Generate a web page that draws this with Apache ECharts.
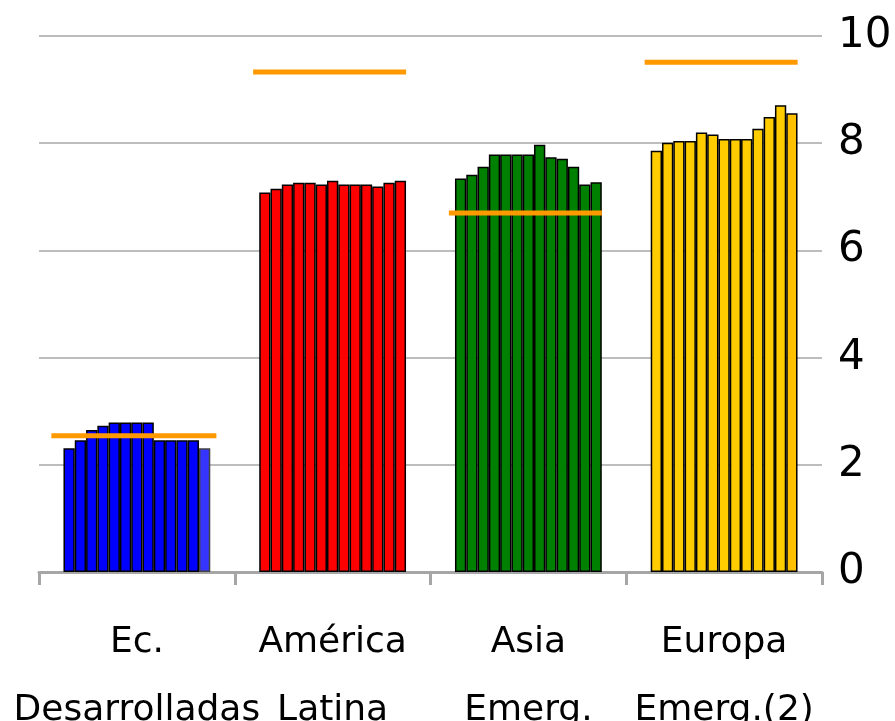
<!DOCTYPE html>
<html>
<head>
<meta charset="utf-8">
<script src="https://cdn.jsdelivr.net/npm/echarts@6/dist/echarts.min.js"></script>
<style>
html,body{margin:0;padding:0;background:#fff;}
#chart{width:895px;height:721px;}
</style>
</head>
<body>
<div id="chart"></div>
<script>
const categories = ['Ec.\nDesarrolladas', 'América\nLatina', 'Asia\nEmerg.', 'Europa\nEmerg.(2)'];
const yTicks = [0, 2, 4, 6, 8, 10];

const ecDesarrolladas = [2.31, 2.46, 2.65, 2.73, 2.79, 2.79, 2.79, 2.79, 2.46, 2.46, 2.46, 2.46, 2.31];
const americaLatina   = [7.08, 7.15, 7.23, 7.26, 7.26, 7.23, 7.30, 7.23, 7.23, 7.23, 7.19, 7.26, 7.30];
const asiaEmerg       = [7.34, 7.41, 7.56, 7.79, 7.79, 7.79, 7.79, 7.97, 7.74, 7.71, 7.56, 7.23, 7.27];
const europaEmerg     = [7.86, 8.01, 8.04, 8.04, 8.20, 8.16, 8.08, 8.08, 8.08, 8.27, 8.49, 8.71, 8.56];

const referencia = [2.54, 9.33, 6.70, 9.51];

const groupColors = ['#0000ff', '#ff0000', '#008000', '#ffcc00'];
const lastColors  = ['#3535ff', '#ff0000', '#008000', '#ffc000'];

const regions = [ecDesarrolladas, americaLatina, asiaEmerg, europaEmerg];
const nBars = ecDesarrolladas.length;

const series = [];
for (let i = 0; i < nBars; i++) {
  const isLast = i === nBars - 1;
  series.push({
    type: 'bar',
    barGap: '0%',
    barCategoryGap: '25%',
    z: 2,
    data: regions.map((r, k) => ({
      value: r[i],
      itemStyle: {
        color: isLast ? lastColors[k] : groupColors[k],
        borderColor: (isLast && k === 0) ? '#444' : '#000',
        borderWidth: 1.5
      }
    }))
  });
}
series.push({
  type: 'scatter',
  symbol: 'rect',
  symbolSize: function (v, p) { return p.dataIndex === 0 ? [165, 5] : [153, 5]; },
  symbolOffset: [-3, 0],
  itemStyle: { color: '#ff9900', opacity: 1 },
  z: 5,
  silent: true,
  data: referencia
});

const chart = echarts.init(document.getElementById('chart'), null, { renderer: 'canvas' });
chart.setOption({
  animation: false,
  backgroundColor: '#fff',
  grid: { left: 39, right: 73, top: 36, bottom: 149, containLabel: false, outerBoundsMode: 'none' },
  xAxis: {
    type: 'category',
    data: categories,
    axisLine: { lineStyle: { color: '#a6a6a6', width: 3 } },
    axisTick: { show: true, interval: 0, length: 13, lineStyle: { color: '#a6a6a6', width: 3 } },
    axisLabel: {
      interval: 0,
      margin: 37,
      color: '#000',
      fontFamily: 'DejaVu Sans',
      fontSize: 36,
      lineHeight: 68
    }
  },
  yAxis: {
    type: 'value',
    position: 'right',
    min: yTicks[0],
    max: yTicks[yTicks.length - 1],
    interval: 2,
    axisLine: { show: false },
    axisTick: { show: false },
    splitLine: { lineStyle: { color: '#bdbdbd', width: 2 } },
    axisLabel: {
      margin: 16,
      color: '#000',
      fontFamily: 'DejaVu Sans',
      fontSize: 42
    }
  },
  series: series
});
</script>
</body>
</html>
